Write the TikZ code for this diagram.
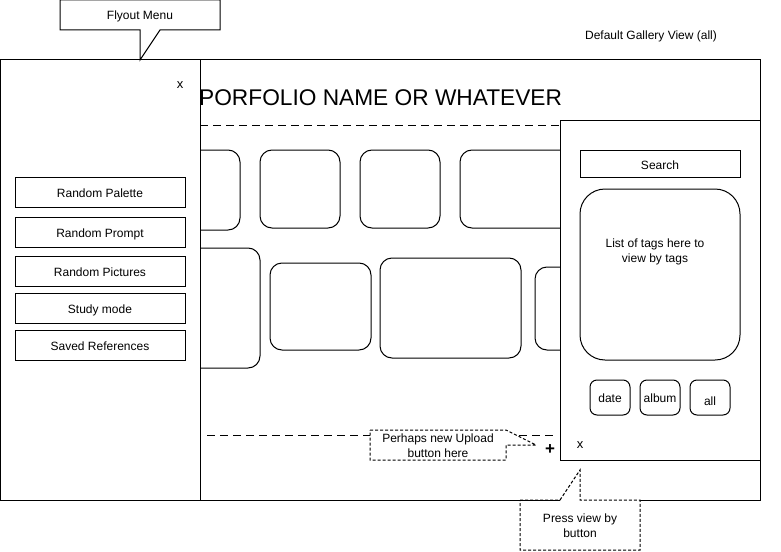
\documentclass[tikz,border=0pt]{standalone}
\usepackage{fontspec}
\setmainfont{Liberation Sans}
\begin{document}
\begin{tikzpicture}[x=1pt,y=-1pt,line width=1pt,
  every node/.style={font=\fontsize{12}{15}\selectfont, inner sep=0pt, outer sep=0pt},
  lbl/.style={text height=10pt, text depth=0pt},
  box/.style={draw, fill=white, rectangle},
  tile/.style={draw, rounded corners=12pt},
  smallbtn/.style={draw, rounded corners=7pt, minimum width=40pt, minimum height=35pt, lbl},
  menubtn/.style={box, minimum width=170pt, minimum height=30pt, lbl},
  maindash/.style={dash pattern=on 8pt off 5pt},
  calloutdash/.style={dash pattern=on 3pt off 2pt}]
\useasboundingbox (0,0) rectangle (781,551);
% main frame
\draw (560,500) -- (0,500) -- (0,60) -- (760,60) -- (760,500) -- (640,500);
% title
\node[font=\fontsize{22.7}{26}\selectfont, anchor=base east] (title) at (562,105) {PORFOLIO NAME OR WHATEVER};
\node[lbl] (gallery) at (651,35) {Default Gallery View (all)};
% dashed separators
\draw[maindash] (200,125) -- (560,125);
\draw[maindash] (207,435) -- (553,435);
% gallery tiles
\node[tile, minimum width=90pt, minimum height=80pt] (t11) at (195,190) {};
\node[tile, minimum width=80pt, minimum height=78pt] (t12) at (300,189) {};
\node[tile, minimum width=80pt, minimum height=78pt] (t13) at (400,189) {};
\node[tile, minimum width=130pt, minimum height=78pt] (t14) at (525,189) {};
\node[tile, minimum width=110pt, minimum height=120pt] (t21) at (205,308) {};
\node[tile, minimum width=101pt, minimum height=87pt] (t22) at (320.5,306.5) {};
\node[tile, minimum width=141pt, minimum height=100pt] (t23) at (450.5,308) {};
\node[tile, minimum width=65pt, minimum height=83pt] (t24) at (567.5,308.5) {};
% flyout panel
\node[box, minimum width=200pt, minimum height=440pt] (fly) at (100,280) {};
\node[font=\fontsize{13}{15}\selectfont] (flyx) at (180,85.5) {x};
\node[menubtn] (rpal) at (100,192) {Random Palette};
\node[menubtn] (rpro) at (100,232) {Random Prompt};
\node[menubtn] (rpic) at (100,271) {Random Pictures};
\node[menubtn] (study) at (100,308) {Study mode};
\node[menubtn] (saved) at (100,345) {Saved References};
% right panel
\node[box, minimum width=200pt, minimum height=340pt] (side) at (660,290) {};
\node[box, minimum width=160pt, minimum height=27pt, text height=11.6pt, text depth=0pt] (search) at (660,163.5) {Search};
\node[draw, rounded corners=25pt, minimum width=160pt, minimum height=171pt] (tags) at (660,274.5) {};
\node[align=center] (tagtext) at (655,251.5) {List of tags here to\\view by tags};
\node[smallbtn] (date) at (610,397.5) {date};
\node[smallbtn] (album) at (660,397.5) {album};
\node[smallbtn, text height=15.6pt] (all) at (710,397.5) {all};
\node[font=\fontsize{13}{15}\selectfont] (sidex) at (580,445) {x};
\node[font=\bfseries\fontsize{17}{18}\selectfont] (plus) at (550,450) {+};
% callouts
\draw[fill=white] (60,0) -- (220,0) -- (220,30) -- (160,30) -- (140,60) -- (140,30) -- (60,30) -- cycle;
\node[lbl] (flylabel) at (140,15) {Flyout Menu};
\draw[calloutdash, fill=white] (370,430) -- (506,430) -- (536,445) -- (506,445) -- (506,460) -- (370,460) -- cycle;
\node[align=center] (upload) at (438,445.5) {Perhaps new Upload\\button here};
\draw[calloutdash, fill=white] (520,500) -- (560,500) -- (580,470) -- (580,500) -- (640,500) -- (640,550) -- (520,550) -- cycle;
\draw (520,500) -- (560,500);
\node[align=center] (press) at (580,525.5) {Press view by\\button};
\end{tikzpicture}
\end{document}
